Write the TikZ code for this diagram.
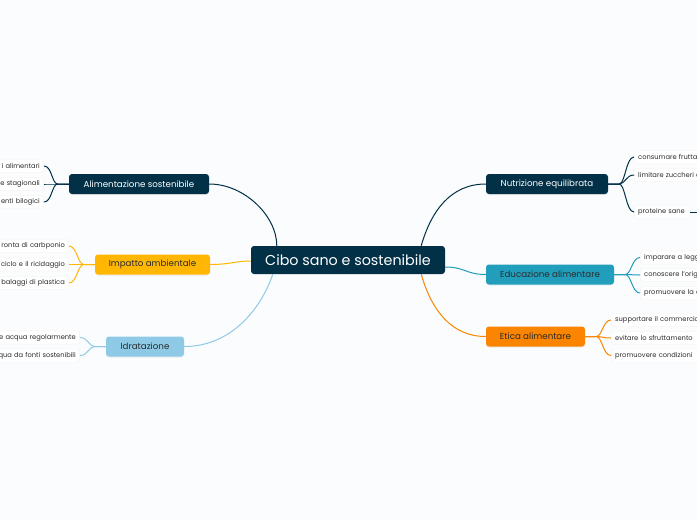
\documentclass[tikz,border=0pt]{standalone}
\usepackage{fontspec}
\setmainfont{Poppins}
\usetikzlibrary{shadows}
\definecolor{navy}{HTML}{023047}
\definecolor{teal}{HTML}{219EBC}
\definecolor{sky}{HTML}{8ECAE6}
\definecolor{amber}{HTML}{FFB703}
\definecolor{orng}{HTML}{FB8500}
\definecolor{leaftext}{HTML}{2B2B2B}
\definecolor{bg}{HTML}{FBFCFD}
\begin{document}
\begin{tikzpicture}[x=1pt,y=-1pt,
  mainbox/.style={rounded corners=3pt, inner sep=0pt, font=\fontsize{14.3}{16}\selectfont, text=white, fill=navy, minimum width=194pt, minimum height=28pt},
  branch/.style={rounded corners=3pt, inner sep=0pt, font=\fontsize{8.7}{10}\selectfont, minimum height=20pt, drop shadow={opacity=0.12, shadow xshift=0pt, shadow yshift=-1pt}},
  leafL/.style={rounded corners=2.5pt, fill=white, draw=black!6, inner ysep=0pt, inner xsep=4pt, minimum height=13pt, font=\fontsize{6.7}{8}\selectfont, text=leaftext, anchor=east, text width=110pt, align=right},
  leafR/.style={rounded corners=2.5pt, fill=white, draw=black!6, inner ysep=0pt, inner xsep=4pt, minimum height=13pt, font=\fontsize{6.7}{8}\selectfont, text=leaftext, anchor=west, text width=110pt, align=left},
  conn/.style={line width=1pt},
]
\useasboundingbox (0,0) rectangle (697,520);
\fill[bg] (0,0) rectangle (697,520);
\clip (0,0) rectangle (697,520);

% central
\node[mainbox] (cen) at (348,260) {Cibo sano e sostenibile};

% branches
\node[branch, fill=navy, text=white, minimum width=140pt] (al) at (139,184) {Alimentazione sostenibile};
\node[branch, fill=amber, text=leaftext, minimum width=115pt] (im) at (152.5,264.5) {Impatto ambientale};
\node[branch, fill=sky, text=leaftext, minimum width=78pt] (id) at (145,346.5) {Idratazione};
\node[branch, fill=navy, text=white, minimum width=122pt] (nu) at (547,184) {Nutrizione equilibrata};
\node[branch, fill=teal, text=leaftext, minimum width=128pt] (ed) at (550,274.5) {Educazione alimentare};
\node[branch, fill=orng, text=leaftext, minimum width=99pt] (et) at (535.5,336.5) {Etica alimentare};

% main connectors
\draw[conn, navy] (al.east) .. controls +(35,0) and +(0,-30) .. ([xshift=26pt]cen.north west);
\draw[conn, amber] (im.east) .. controls +(20,0) and +(-15,0) .. ([yshift=-1pt]cen.west);
\draw[conn, sky] (id.east) .. controls +(50,0) and +(-10,30) .. ([xshift=22pt]cen.south west);
\draw[conn, navy] ([xshift=-24pt]cen.north east) .. controls +(10,-35) and +(-35,0) .. (nu.west);
\draw[conn, teal] ([yshift=-7pt]cen.east) .. controls +(20,0) and +(-20,0) .. (ed.west);
\draw[conn, orng] ([xshift=-24pt]cen.south east) .. controls +(10,35) and +(-35,0) .. (et.west);

% left leaves: Alimentazione
\node[leafL] (al1) at (44,166) {i alimentari};
\node[leafL] (al2) at (44,184) {e stagionali};
\node[leafL] (al3) at (44,202) {enti bilogici};
\foreach \l in {al1,al2,al3}
  \draw[conn, navy] (al.west) -- ++(-11,0) .. controls +(-6,0) and +(8,0) .. (\l.east);

% left leaves: Impatto
\node[leafL] (im1) at (69,246) {ronta di carbponio};
\node[leafL] (im2) at (69,264.5) {ciclo e il ricidaggio};
\node[leafL] (im3) at (69,283) {balaggi di plastica};
\foreach \l in {im1,im2,im3}
  \draw[conn, amber] (im.west) -- ++(-11,0) .. controls +(-6,0) and +(8,0) .. (\l.east);

% left leaves: Idratazione
\node[leafL] (id1) at (80,337.5) {e acqua regolarmente};
\node[leafL] (id2) at (80,355.5) {qua da fonti sostenibili};
\foreach \l in {id1,id2}
  \draw[conn, sky] (id.west) -- ++(-11,0) .. controls +(-6,0) and +(8,0) .. (\l.east);

% right leaves: Nutrizione
\node[leafR] (nu1) at (634,157) {consumare frutta};
\node[leafR] (nu2) at (634,175) {limitare zuccheri e};
\node[leafR, text width=48pt] (nu3) at (634,212) {proteine sane};
\coordinate (nuout) at (700,212);
\draw[conn, navy] (nu3.east) -- (nuout);
\foreach \l in {nu1,nu2,nu3}
  \draw[conn, navy] (nu.east) -- ++(11,0) .. controls +(6,0) and +(-8,0) .. (\l.west);

% right leaves: Educazione
\node[leafR] (ed1) at (640,257.5) {imparare a legg};
\node[leafR] (ed2) at (640,275) {conoscere l'orig};
\node[leafR] (ed3) at (640,293) {promuovere la c};
\foreach \l in {ed1,ed2,ed3}
  \draw[conn, teal] (ed.east) -- ++(11,0) .. controls +(6,0) and +(-8,0) .. (\l.west);

% right leaves: Etica
\node[leafR] (et1) at (611,320) {supportare il commercio};
\node[leafR] (et2) at (611,338) {evitare lo sfruttamento};
\node[leafR] (et3) at (611,355.5) {promuovere condizioni};
\foreach \l in {et1,et2,et3}
  \draw[conn, orng] (et.east) -- ++(11,0) .. controls +(6,0) and +(-8,0) .. (\l.west);
\end{tikzpicture}
\end{document}
